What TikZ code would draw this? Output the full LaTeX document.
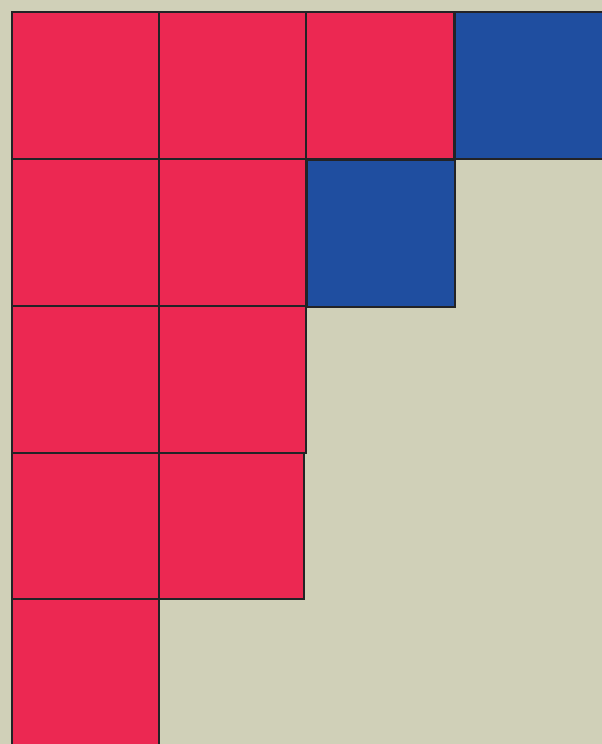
\documentclass[tikz,border=0pt]{standalone}
\definecolor{bg}{RGB}{208,208,184}
\definecolor{redsq}{RGB}{236,40,82}
\definecolor{bluesq}{RGB}{31,78,160}
\definecolor{edge}{RGB}{35,35,38}
\tikzset{
  redbox/.style={fill=redsq,draw=edge,line width=2pt},
  bluebox/.style={fill=bluesq,draw=edge,line width=2pt}
}
\begin{document}
\begin{tikzpicture}[x=1pt,y=-1pt]
\useasboundingbox (0,0) rectangle (602,744);
\clip (0,0) rectangle (602,744);
\fill[bg] (0,0) rectangle (602,744);
% row 1
\draw[redbox] (12,12) rectangle (159,159);
\draw[redbox] (159,12) rectangle (306,159);
\draw[redbox] (306,12) rectangle (454,159);
\draw[bluebox] (455,12) rectangle (603,159);
% row 2
\draw[redbox] (12,159) rectangle (159,306);
\draw[redbox] (159,159) rectangle (306,306);
\draw[bluebox] (307,160) rectangle (455,307);
% row 3
\draw[redbox] (12,306) rectangle (159,453);
\draw[redbox] (159,306) rectangle (306,453);
% row 4
\draw[redbox] (12,453) rectangle (159,599);
\draw[redbox] (159,453) rectangle (304,599);
% row 5
\draw[redbox] (12,599) rectangle (159,746);
\end{tikzpicture}
\end{document}
